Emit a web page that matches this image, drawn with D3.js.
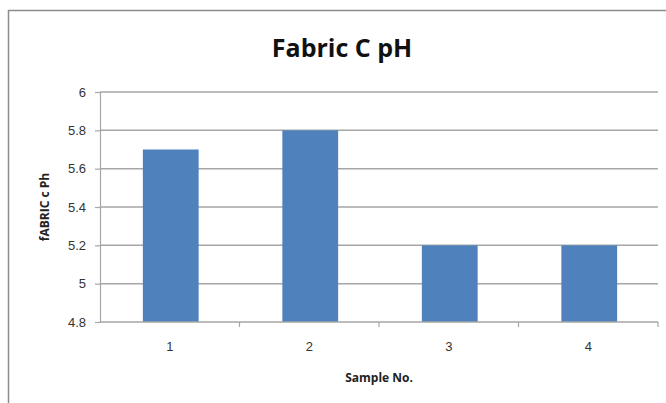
<!DOCTYPE html>
<html lang="en">
<head>
    <meta charset="UTF-8">
    <title>Fabric C pH</title>
    <script src="https://cdnjs.cloudflare.com/ajax/libs/d3/7.8.5/d3.min.js"></script>
    <style>
        body { margin: 0; padding: 0; background: #fff; }
        svg { display: block; font-family: "Liberation Sans Narrow", "Open Sans", Arial, sans-serif; }
        .grid line { stroke: #a6a6a6; stroke-width: 1.5px; }
        .axis path, .axis line { stroke: #a6a6a6; stroke-width: 1.2px; }
        .axis text { fill: #333; font-size: 13px; }
    </style>
</head>
<body>
    <div id="chart"></div>
    <script>
        const samples = ["1", "2", "3", "4"];
        const phValues = [5.7, 5.8, 5.2, 5.2];
        const yTicks = [4.8, 5, 5.2, 5.4, 5.6, 5.8, 6];

        const W = 666, H = 403;
        const margin = { top: 92, right: 8, bottom: 81, left: 100 };
        const width = W - margin.left - margin.right;
        const height = H - margin.top - margin.bottom;

        const svg = d3.select("#chart").append("svg")
            .attr("width", W)
            .attr("height", H);

        // chart frame
        svg.append("path")
            .attr("d", `M8.5,${H} L8.5,10.5 L${W},10.5`)
            .attr("fill", "none")
            .attr("stroke", "#8c8c8c")
            .attr("stroke-width", 1.5);

        svg.append("text")
            .attr("x", 342)
            .attr("y", 57)
            .attr("text-anchor", "middle")
            .attr("font-size", 25)
            .attr("font-weight", "bold")
            .attr("fill", "#111")
            .text("Fabric C pH");

        const g = svg.append("g")
            .attr("transform", `translate(${margin.left},${margin.top})`);

        const x = d3.scaleBand().domain(samples).range([0, width]).paddingInner(0.6).paddingOuter(0.3);
        const xOuter = d3.scaleBand().domain(samples).range([0, width]);
        const y = d3.scaleLinear().domain([4.8, 6]).range([height, 0]);

        g.append("g").attr("class", "grid")
            .selectAll("line")
            .data(yTicks.slice(1))
            .enter().append("line")
            .attr("x1", 0).attr("x2", width)
            .attr("y1", d => y(d)).attr("y2", d => y(d));

        g.selectAll(".bar")
            .data(phValues)
            .enter().append("rect")
            .attr("class", "bar")
            .attr("x", (d, i) => x(samples[i]) + 1)
            .attr("width", x.bandwidth())
            .attr("y", d => y(d))
            .attr("height", d => height - y(d))
            .attr("fill", "#4f81bd");

        g.append("g").attr("class", "axis")
            .call(d3.axisLeft(y).tickValues(yTicks).tickSize(5).tickPadding(9).tickFormat(d3.format("~g")));

        const xAxis = g.append("g").attr("class", "axis")
            .attr("transform", `translate(0,${height})`)
            .call(d3.axisBottom(xOuter).tickSize(0).tickPadding(20));
        xAxis.select(".domain").remove();
        g.append("line")
            .attr("x1", 0).attr("x2", width)
            .attr("y1", height).attr("y2", height)
            .attr("stroke", "#a6a6a6").attr("stroke-width", 1.5);
        // category boundary ticks
        g.append("g").selectAll("line")
            .data(samples)
            .enter().append("line")
            .attr("x1", d => xOuter(d) + xOuter.bandwidth())
            .attr("x2", d => xOuter(d) + xOuter.bandwidth())
            .attr("y1", height).attr("y2", height + 5)
            .attr("stroke", "#a6a6a6").attr("stroke-width", 1.2);

        svg.append("text")
            .attr("x", margin.left + width / 2)
            .attr("y", 382)
            .attr("text-anchor", "middle")
            .attr("font-size", 12)
            .attr("font-weight", "bold")
            .attr("fill", "#222")
            .text("Sample No.");

        svg.append("text")
            .attr("transform", `translate(49,${margin.top + height / 2}) rotate(-90)`)
            .attr("text-anchor", "middle")
            .attr("font-size", 12)
            .attr("font-weight", "bold")
            .attr("fill", "#222")
            .text("fABRIC c Ph");
    </script>
</body>
</html>
